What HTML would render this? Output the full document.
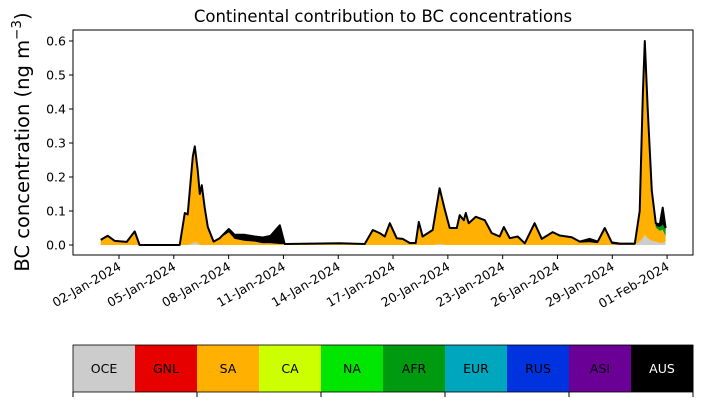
<!DOCTYPE html>
<html><head><meta charset="utf-8">
<style>
body{margin:0;background:#fff;}
svg{display:block;font-family:"DejaVu Sans","Liberation Sans",sans-serif;}
</style></head>
<body>
<svg id="chart" width="703" height="402" viewBox="0 0 703 402"></svg>
<script>
// Day-of-January (fractional) sample times
const days = [1.00,1.38,1.77,2.42,2.86,3.13,5.32,5.60,5.76,6.04,6.15,6.31,6.42,6.53,6.69,6.86,7.18,7.51,8.01,8.33,8.88,9.43,9.87,10.30,10.80,11.07,14.08,15.45,15.89,16.27,16.55,16.82,17.20,17.53,17.91,18.24,18.41,18.62,19.17,19.55,19.83,20.10,20.49,20.65,20.87,20.98,21.14,21.53,22.02,22.40,22.84,23.06,23.39,23.82,24.21,24.75,25.14,25.74,26.12,26.78,27.22,27.77,28.20,28.59,28.97,29.41,30.23,30.50,30.67,30.78,30.94,31.16,31.38,31.60,31.76,31.92];
const total = [.015,.027,.012,.009,.04,.0,.0,.094,.09,.26,.29,.22,.15,.176,.11,.053,.01,.02,.047,.03,.03,.025,.022,.027,.058,.003,.005,.003,.044,.035,.025,.064,.02,.018,.006,.006,.068,.025,.044,.167,.104,.05,.05,.088,.073,.094,.064,.083,.073,.035,.025,.053,.02,.025,.005,.064,.018,.038,.028,.023,.01,.018,.01,.05,.008,.004,.004,.1,.44,.6,.4,.16,.064,.06,.11,.05];
const oce = [0,0,0,0,0,0,0,0,0,.005,.008,.006,0,0,0,0,0,0,0,0,0,0,0,0,0,0,0,0,0,0,0,0,0,0,0,0,0,0,0,.003,0,0,0,0,0,0,0,0,0,0,0,0,0,0,0,0,0,0,0,0,0,0,0,0,0,0,0,.01,.02,.03,.02,.012,.01,.006,.006,.01];
const aus = [0,0,0,0,0,0,0,0,0,0,0,0,0,0,0,0,0,0,.01,.012,.018,.015,.017,.022,.055,0,0,0,0,0,0,0,0,0,0,0,0,0,0,0,0,0,0,0,0,0,0,0,0,0,0,0,0,0,0,0,0,0,0,0,.003,.01,.005,.005,.005,.003,.003,.005,.03,.05,.03,.015,.008,.008,.05,.005];
const afr = [0,0,0,0,0,0,0,0,0,0,0,0,0,0,0,0,0,0,0,0,0,0,0,0,0,0,0,0,0,0,0,0,0,0,0,0,0,0,0,0,0,0,0,0,0,0,0,0,0,0,0,0,0,0,0,0,0,0,0,0,0,0,0,0,0,0,0,0,0,0,0,0,.005,.01,.015,.02];
const yTicks = [0.0,0.1,0.2,0.3,0.4,0.5,0.6];
const xTickDays = [2,5,8,11,14,17,20,23,26,29,32];
const xTickLabels = ["02-Jan-2024","05-Jan-2024","08-Jan-2024","11-Jan-2024","14-Jan-2024","17-Jan-2024","20-Jan-2024","23-Jan-2024","26-Jan-2024","29-Jan-2024","01-Feb-2024"];
const regions = ["OCE","GNL","SA","CA","NA","AFR","EUR","RUS","ASI","AUS"];
const regionColors = ["#cccccc","#e60000","#ffb000","#ccff00","#00e600","#009a10","#00a5be","#0033e0","#6a0096","#000000"];

const NS="http://www.w3.org/2000/svg";
const svg=document.getElementById('chart');
const L=73,R=693,T=30,B=255;
const xs=d=>119+(d-2)*18.27;
const ys=v=>245-v*340;
function mk(tag,attrs,parent){const e=document.createElementNS(NS,tag);for(const k in attrs)e.setAttribute(k,attrs[k]);(parent||svg).appendChild(e);return e;}

const sa = total.map((t,i)=>Math.max(0,t-oce[i]-aus[i]-afr[i]));
const layers=[["oce",oce,regionColors[0]],["sa",sa,regionColors[2]],["afr",afr,regionColors[5]],["aus",aus,regionColors[9]]];
let base=days.map(()=>0);
layers.forEach(([nm,vals,col])=>{
  const top=base.map((b,i)=>b+vals[i]);
  let d="M"+days.map((dd,i)=>xs(dd).toFixed(1)+","+ys(top[i]).toFixed(1)).join("L");
  for(let i=days.length-1;i>=0;i--)d+="L"+xs(days[i]).toFixed(1)+","+ys(base[i]).toFixed(1);
  const p=mk('path',{d:d+"Z",fill:col,stroke:'none'});
  
  
  base=top;
});
const line=mk('path',{d:"M"+days.map((dd,i)=>xs(dd).toFixed(1)+","+ys(total[i]).toFixed(1)).join("L"),fill:'none',stroke:'#000','stroke-width':2,'stroke-linejoin':'round'});



const fr=mk('rect',{x:L,y:T,width:R-L,height:B-T,fill:'none',stroke:'#000','stroke-width':1});



yTicks.forEach(v=>{
  const y=ys(v);
  const tk=mk('line',{x1:L-4,x2:L,y1:y,y2:y,stroke:'#000'});
  
  
  const t=mk('text',{x:L-7,y:y+4.5,'text-anchor':'end','font-size':12.5});
  t.textContent=v.toFixed(1);
  
  
});
xTickDays.forEach((d,i)=>{
  const x=xs(d);
  const tk=mk('line',{x1:x,x2:x,y1:B,y2:B+4,stroke:'#000'});
  
  
  const t=mk('text',{x:x+3,y:B+14,'text-anchor':'end','font-size':12.5,transform:`rotate(-30 ${x+3} ${B+14})`});
  t.textContent=xTickLabels[i];
  
  
});

const title=mk('text',{x:383,y:22,'text-anchor':'middle','font-size':16.5});
title.textContent="Continental contribution to BC concentrations";


const yt=mk('text',{x:0,y:0,'text-anchor':'middle','font-size':19.5,transform:'translate(29 142) rotate(-90)'});
yt.innerHTML='BC concentration (ng m<tspan dy="-8" font-size="13.5">−3</tspan><tspan dy="8">)</tspan>';



const cw=(R-L)/regions.length;
regions.forEach((r,i)=>{
  const rc=mk('rect',{x:L+i*cw,y:345,width:cw+0.5,height:47,fill:regionColors[i]});
  
  
  const t=mk('text',{x:L+i*cw+cw/2,y:373,'text-anchor':'middle','font-size':12.5,fill:i===9?'#fff':'#000'});
  t.textContent=r;
  
  
});
const lb=mk('rect',{x:L,y:345,width:R-L,height:47,fill:'none',stroke:'#000','stroke-width':0.8});


for(let i=0;i<=regions.length;i+=2){
  const x=L+i*cw;
  const tk=mk('line',{x1:x,x2:x,y1:392,y2:397,stroke:'#000'});
  
  
}
</script>
</body></html>
